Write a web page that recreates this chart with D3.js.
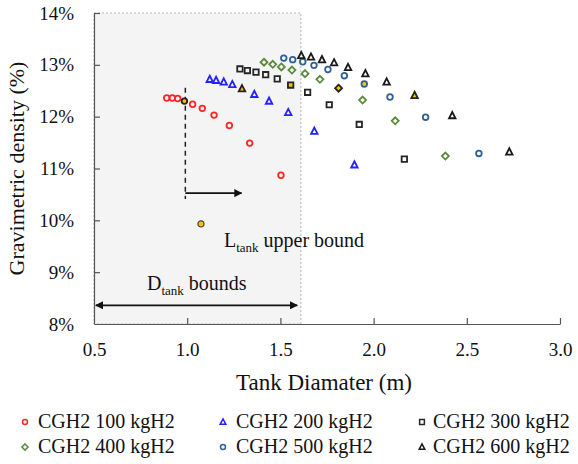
<!DOCTYPE html>
<html>
<head>
<meta charset="utf-8">
<script src="https://cdn.jsdelivr.net/npm/d3@7"></script>
<style>
  body { margin: 0; background: #fff; }
  svg { font-family: "Liberation Serif", "Times New Roman", serif; }
</style>
</head>
<body>
<script>
const w = 578;
const h = 464;

// series: tank diameter (m) and gravimetric density (%)
const names = ["CGH2 100 kgH2", "CGH2 200 kgH2", "CGH2 300 kgH2", "CGH2 400 kgH2", "CGH2 500 kgH2", "CGH2 600 kgH2"];

const d100x = [0.890, 0.920, 0.949, 0.985, 1.029, 1.081, 1.144, 1.226, 1.335, 1.503];
const d100y = [12.36, 12.36, 12.35, 12.30, 12.24, 12.16, 12.03, 11.83, 11.49, 10.87];

const d200x = [1.121, 1.155, 1.196, 1.242, 1.294, 1.360, 1.439, 1.542, 1.682, 1.897];
const d200y = [12.72, 12.70, 12.67, 12.62, 12.54, 12.43, 12.30, 12.08, 11.72, 11.07];

const d300x = [1.283, 1.323, 1.369, 1.421, 1.483, 1.555, 1.646, 1.762, 1.923, 2.165];
const d300y = [12.92, 12.89, 12.86, 12.81, 12.73, 12.61, 12.47, 12.23, 11.85, 11.18];

const d400x = [1.412, 1.459, 1.505, 1.562, 1.632, 1.712, 1.812, 1.941, 2.116, 2.385];
const d400y = [13.05, 13.01, 12.96, 12.90, 12.83, 12.72, 12.55, 12.32, 11.92, 11.24];

const d500x = [1.518, 1.566, 1.620, 1.680, 1.755, 1.843, 1.950, 2.088, 2.279, 2.565];
const d500y = [13.13, 13.10, 13.06, 12.99, 12.91, 12.79, 12.63, 12.38, 11.99, 11.29];

const d600x = [1.612, 1.664, 1.723, 1.788, 1.863, 1.956, 2.070, 2.220, 2.422, 2.728];
const d600y = [13.18, 13.15, 13.10, 13.04, 12.95, 12.83, 12.67, 12.41, 12.02, 11.32];

// index of the highlighted (yellow) point in each series
const highlight = [3, 4, 5, 6, 6, 7];

// lone highlighted point (L_tank upper bound)
const boundPoint = [1.074, 9.93];

const xTicks = [0.5, 1.0, 1.5, 2.0, 2.5, 3.0];
const yTicks = [8, 9, 10, 11, 12, 13, 14];

// annotation geometry (data units)
const dBoxMax = 1.61;
const lDashX = 0.99, lDashTop = 12.56, lDashBottom = 10.41;
const lArrowEnd = 1.292, lArrowY = 10.525;
const dArrowFrom = 0.51, dArrowTo = 1.59, dArrowY = 8.36;
const lLabel = [1.197, 9.49];
const dLabel = [0.784, 8.65];

const xs = [d100x, d200x, d300x, d400x, d500x, d600x];
const ys = [d100y, d200y, d300y, d400y, d500y, d600y];
const shapes = ["circle", "triangle", "square", "diamond", "circle", "triangle"];
const colors = ["#ff2626", "#2323ff", "#262626", "#5a8a3a", "#2e6096", "#1a1a1a"];
const hlStroke = ["#222", "#222", "#222", "#222", "#2e6096", "#222"];
const yellow = "#ffc000";

function shapePath(type, s) {
    if (type === "circle") {
        let r = s * 0.85;
        return `M${r},0A${r},${r} 0 1,1 ${-r},0A${r},${r} 0 1,1 ${r},0Z`;
    } else if (type === "triangle") {
        return `M0,${-s * 1.1}L${s * 0.98},${s * 0.8}L${-s * 0.98},${s * 0.8}Z`;
    } else if (type === "square") {
        let a = s * 0.82;
        return `M${-a},${-a}H${a}V${a}H${-a}Z`;
    } else {
        let d = s * 1.06;
        return `M0,${-d}L${d},0L0,${d}L${-d},0Z`;
    }
}

const svg = d3.select("body")
    .append("svg")
    .attr("width", w)
    .attr("height", h);

const xScale = d3.scaleLinear().domain([0.5, 3.0]).range([94, 560]);
const yScale = d3.scaleLinear().domain([8, 14]).range([324, 13]);

const defs = svg.append("defs");
defs.append("marker")
    .attr("id", "head")
    .attr("viewBox", "0 0 10 10")
    .attr("refX", 9).attr("refY", 5)
    .attr("markerWidth", 4.5).attr("markerHeight", 4.5)
    .attr("markerUnits", "strokeWidth")
    .attr("orient", "auto-start-reverse")
    .append("path")
    .attr("d", "M0,0L10,5L0,10Z")
    .attr("fill", "#111");

// shaded D_tank bounds region
svg.append("rect")
    .attr("x", xScale(0.5))
    .attr("y", yScale(14))
    .attr("width", xScale(dBoxMax) - xScale(0.5))
    .attr("height", yScale(8) - yScale(14))
    .attr("fill", "#f4f4f4")
    .attr("stroke", "#b5b5b5")
    .attr("stroke-width", 1)
    .attr("stroke-dasharray", "2,2");

// axes
const xAxis = d3.axisBottom(xScale)
    .tickValues(xTicks)
    .tickFormat(d3.format(".1f"))
    .tickSizeInner(-6)
    .tickSizeOuter(0)
    .tickPadding(19);

const yAxis = d3.axisLeft(yScale)
    .tickValues(yTicks)
    .tickFormat(d => d + "%")
    .tickSizeInner(-6)
    .tickSizeOuter(0)
    .tickPadding(20);

const gx = svg.append("g")
    .attr("transform", `translate(0,${yScale(8)})`)
    .call(xAxis);
const gy = svg.append("g")
    .attr("transform", `translate(${xScale(0.5)},0)`)
    .call(yAxis);

[gx, gy].forEach(g => {
    g.select(".domain").attr("stroke", "#555").attr("stroke-width", 1.2);
    g.selectAll(".tick line").attr("stroke", "#555").attr("stroke-width", 1.2);
    g.selectAll(".tick text")
        .attr("fill", "#111")
        .style("font-family", "Liberation Serif")
        .style("font-size", "19px");
});
gy.selectAll(".tick line").filter(d => d === 8).remove();
gx.selectAll(".tick line").filter(d => d === 0.5).remove();

// axis titles
svg.append("text")
    .attr("x", 324)
    .attr("y", 390)
    .attr("text-anchor", "middle")
    .style("font-size", "23px")
    .attr("fill", "#111")
    .text("Tank Diamater (m)");

svg.append("text")
    .attr("transform", `translate(24,${(yScale(8) + yScale(14)) / 2}) rotate(-90)`)
    .attr("text-anchor", "middle")
    .style("font-size", "22px")
    .attr("fill", "#111")
    .text("Gravimetric density (%)");

// L_tank dashed line + arrow
svg.append("line")
    .attr("x1", xScale(lDashX)).attr("x2", xScale(lDashX))
    .attr("y1", yScale(lDashTop)).attr("y2", yScale(lDashBottom))
    .attr("stroke", "#222")
    .attr("stroke-width", 1.5)
    .attr("stroke-dasharray", "5,4");

svg.append("line")
    .attr("x1", xScale(lDashX)).attr("x2", xScale(lArrowEnd))
    .attr("y1", yScale(lArrowY)).attr("y2", yScale(lArrowY))
    .attr("stroke", "#111")
    .attr("stroke-width", 1.8)
    .attr("marker-end", "url(#head)");

// D_tank double arrow
svg.append("line")
    .attr("x1", xScale(dArrowFrom)).attr("x2", xScale(dArrowTo))
    .attr("y1", yScale(dArrowY)).attr("y2", yScale(dArrowY))
    .attr("stroke", "#111")
    .attr("stroke-width", 1.8)
    .attr("marker-start", "url(#head)")
    .attr("marker-end", "url(#head)");

// annotation labels
function subLabel(pos, main, sub, rest) {
    const t = svg.append("text")
        .attr("x", xScale(pos[0]))
        .attr("y", yScale(pos[1]))
        .attr("fill", "#111")
        .style("font-size", "20px");
    t.append("tspan").text(main);
    t.append("tspan").attr("dy", 5).style("font-size", "13px").text(sub);
    t.append("tspan").attr("dy", -5).text(rest);
}
subLabel(lLabel, "L", "tank", " upper bound");
subLabel(dLabel, "D", "tank", " bounds");

// scatter markers
xs.forEach((xArr, si) => {
    const pts = xArr.map((xv, i) => ({ x: xv, y: ys[si][i], hl: i === highlight[si] }));
    svg.append("g")
        .selectAll("path")
        .data(pts)
        .enter()
        .append("path")
        .attr("transform", d => `translate(${xScale(d.x)},${yScale(d.y)})`)
        .attr("d", shapePath(shapes[si], 3.3))
        .attr("fill", d => d.hl ? yellow : "none")
        .attr("stroke", d => d.hl ? hlStroke[si] : colors[si])
        .attr("stroke-width", 1.8);
});

svg.append("path")
    .attr("transform", `translate(${xScale(boundPoint[0])},${yScale(boundPoint[1])})`)
    .attr("d", shapePath("circle", 3.6))
    .attr("fill", yellow)
    .attr("stroke", "#444")
    .attr("stroke-width", 1.2);

// legend
const legX = [25, 223, 422];
const legTextX = [38, 236, 433];
const legY = [428, 453];
names.forEach((n, i) => {
    const col = i % 3;
    const row = Math.floor(i / 3);
    const g = svg.append("g");
    g.append("path")
        .attr("transform", `translate(${legX[col]},${legY[row] - 6})`)
        .attr("d", shapePath(shapes[i], 2.9))
        .attr("fill", "none")
        .attr("stroke", colors[i])
        .attr("stroke-width", 1.5);
    g.append("text")
        .attr("x", legTextX[col])
        .attr("y", legY[row])
        .attr("fill", "#111")
        .style("font-size", "20px")
        .text(n);
});
</script>
</body>
</html>
